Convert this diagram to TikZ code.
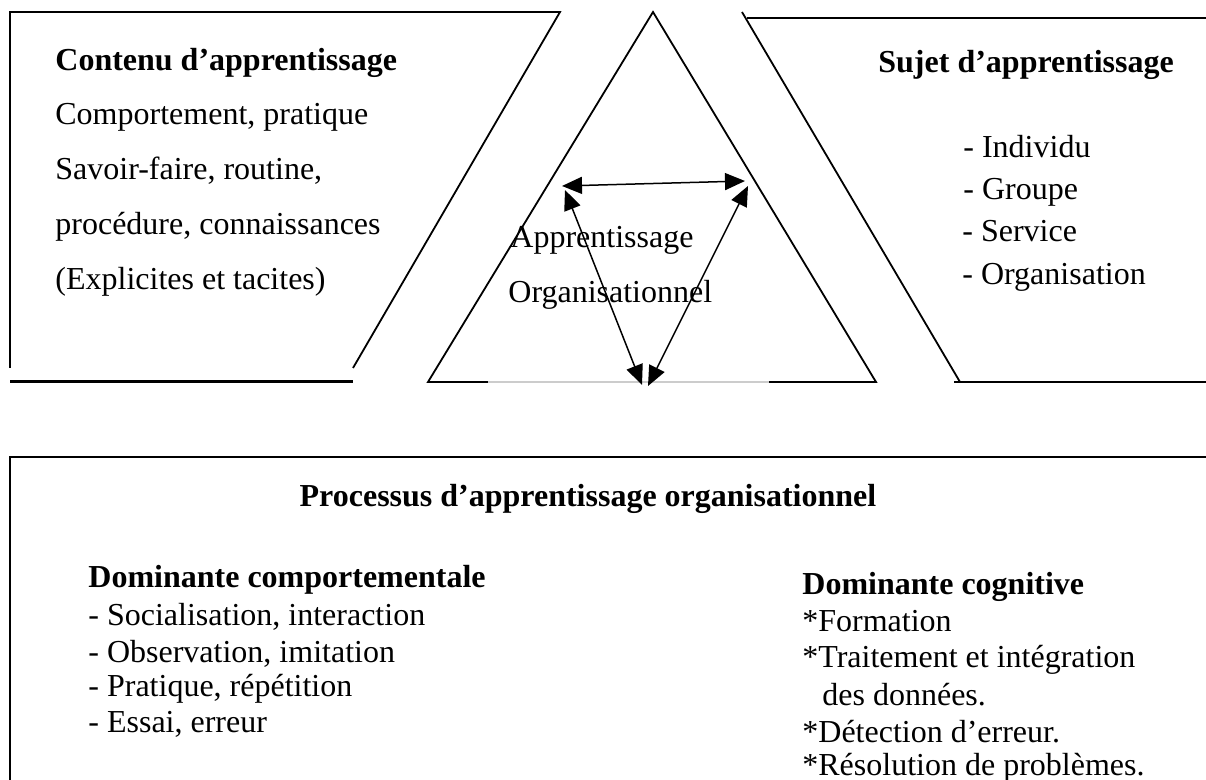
\documentclass[tikz,border=0pt]{standalone}
\usepackage{fontspec}
\setmainfont{Liberation Serif}
\usetikzlibrary{arrows.meta}

\begin{document}
\begin{tikzpicture}[x=0.5pt, y=-0.5pt,
  txt/.style={anchor=base west, inner sep=0pt, font=\fontsize{16}{19}\selectfont},
  ttl/.style={txt, font=\fontsize{16}{19}\selectfont\bfseries},
  edge/.style={line width=0.9pt},
  link/.style={{Triangle[length=10pt,width=8.5pt]}-{Triangle[length=10pt,width=8.5pt]}, line width=0.75pt}]
  \useasboundingbox (0,0) rectangle (1206,780);
  % left panel
  \draw[edge] (10,368) -- (10,12) -- (560,12) -- (353,368);
  \draw[line width=1.5pt] (10,382) -- (353,382);
  % central triangle
  \draw[edge] (488,382) -- (428,382) -- (653,12) -- (876,382) -- (769,382);
  \draw[gray!40, line width=0.6pt] (488,382) -- (769,382);
  % right panel
  \draw[edge] (742,12) -- (960,382);
  \draw[edge] (747,18) -- (1206,18);
  \draw[line width=1.2pt] (954,382) -- (1206,382);
  % lower box
  \draw[line width=1.2pt] (10,780) -- (10,457) -- (1206,457);

  \node[ttl] (contenu) at (55,71) {Contenu d’apprentissage};
  \node[txt] (cont1) at (55,125) {Comportement, pratique};
  \node[txt] (cont2) at (55,180) {Savoir-faire, routine,};
  \node[txt] (cont3) at (55,235) {procédure, connaissances};
  \node[txt] (cont4) at (55,290) {(Explicites et tacites)};

  \node[ttl] (sujet) at (878,73) {Sujet d’apprentissage};
  \node[txt] (suj1) at (963,158) {- Individu};
  \node[txt] (suj2) at (963,200) {- Groupe};
  \node[txt] (suj3) at (962,242) {- Service};
  \node[txt] (suj4) at (962,285) {- Organisation};

  \node[txt] (appr) at (510,248) {Apprentissage};
  \node[txt] (orga) at (508,303) {Organisationnel};

  % loop of arrows
  \coordinate (lt) at (562,186);
  \coordinate (lt2) at (565,190);
  \coordinate (rt) at (745,181);
  \coordinate (rt2) at (748,186);
  \coordinate (bl) at (642,385);
  \coordinate (br) at (648,386);
  \draw[link] (lt) -- (rt);
  \draw[link] (lt2) -- (bl);
  \draw[link] (rt2) -- (br);

  \node[ttl, anchor=base] (proc) at (588,507) {Processus d’apprentissage organisationnel};
  \node[ttl] (comp) at (88,588) {Dominante comportementale};
  \node[txt] (comp1) at (88,625) {- Socialisation, interaction};
  \node[txt] (comp2) at (88,662) {- Observation, imitation};
  \node[txt] (comp3) at (88,697) {- Pratique, répétition};
  \node[txt] (comp4) at (88,733) {- Essai, erreur};

  \node[ttl] (cogn) at (802,595) {Dominante cognitive};
  \node[txt] (cogn1) at (802,632) {*Formation};
  \node[txt] (cogn2) at (802,668) {*Traitement et intégration};
  \node[txt] (cogn3) at (822,705) {des données.};
  \node[txt] (cogn4) at (802,742) {*Détection d’erreur.};
  \node[txt] (cogn5) at (802,776) {*Résolution de problèmes.};
\end{tikzpicture}
\end{document}
